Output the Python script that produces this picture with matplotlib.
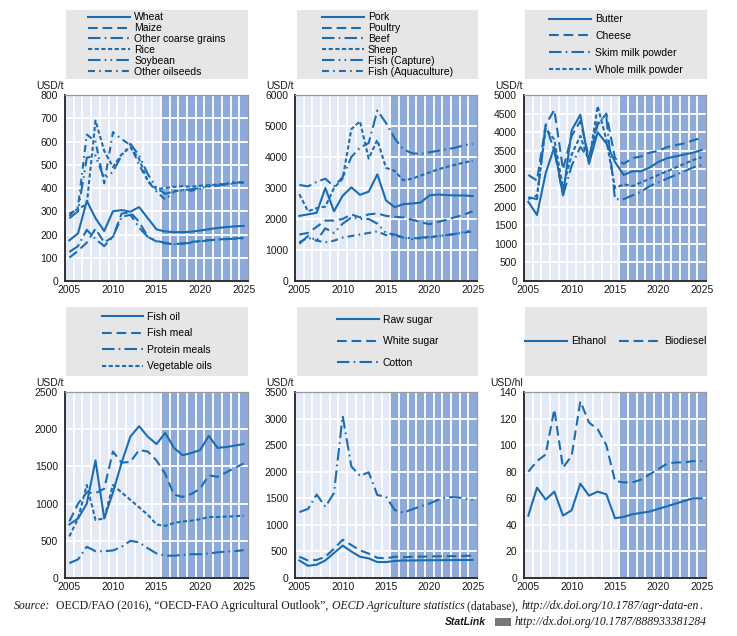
import numpy as np
import matplotlib
matplotlib.use('Agg')
import matplotlib.pyplot as plt
from matplotlib.ticker import MultipleLocator, FixedLocator

plt.rcParams['font.family'] = ['Liberation Sans', 'DejaVu Sans']
plt.rcParams['lines.scale_dashes'] = False

years = list(range(2005, 2026))

# --- cereals & oilseeds (USD/t)
wheat = [175, 205, 345, 270, 215, 300, 305, 298, 318, 270, 222, 213, 210, 210, 212, 217, 223, 228, 232, 235, 237]
maize = [100, 130, 165, 225, 165, 190, 290, 295, 255, 190, 170, 162, 158, 162, 168, 172, 176, 178, 181, 183, 185]
coarse = [125, 150, 220, 180, 150, 190, 275, 285, 230, 190, 172, 165, 158, 160, 165, 170, 175, 178, 180, 182, 184]
rice = [290, 310, 330, 690, 560, 490, 545, 575, 525, 430, 395, 400, 405, 408, 405, 410, 412, 415, 418, 422, 425]
soybean = [270, 300, 530, 540, 440, 470, 540, 590, 540, 460, 400, 375, 385, 390, 395, 400, 405, 410, 415, 420, 425]
oilseeds = [280, 320, 630, 600, 420, 640, 610, 585, 500, 430, 385, 350, 385, 392, 388, 397, 410, 412, 418, 428, 422]

# --- meat & fish (USD/t)
pork = [2100, 2150, 2200, 3000, 2250, 2750, 3020, 2780, 2880, 3440, 2600, 2380, 2480, 2500, 2530, 2760, 2790, 2770, 2760, 2760, 2740]
poultry = [1500, 1550, 1750, 1950, 1950, 2000, 2150, 2050, 2150, 2180, 2100, 2070, 2050, 1980, 1900, 1830, 1900, 1980, 2060, 2140, 2250]
beef = [3100, 3050, 3200, 3300, 3050, 3350, 4000, 4300, 4450, 5500, 5100, 4600, 4250, 4120, 4100, 4150, 4200, 4250, 4300, 4380, 4420]
sheep = [2800, 2250, 2350, 2400, 3000, 3300, 4900, 5150, 3950, 4550, 3650, 3550, 3250, 3300, 3400, 3500, 3600, 3680, 3750, 3820, 3880]
fish_capture = [1200, 1450, 1300, 1700, 1550, 1850, 2050, 2000, 2000, 1850, 1550, 1500, 1400, 1350, 1400, 1420, 1450, 1480, 1520, 1580, 1650]
fish_aqua = [1250, 1400, 1300, 1250, 1300, 1400, 1450, 1500, 1550, 1600, 1480, 1470, 1400, 1380, 1380, 1400, 1450, 1480, 1520, 1560, 1600]

# --- dairy (USD/t)
butter = [2130, 1775, 2900, 3600, 2300, 4050, 4470, 3150, 4000, 3700, 3200, 2850, 2950, 2950, 3050, 3200, 3300, 3350, 3400, 3450, 3520]
cheese = [2850, 2700, 4200, 4600, 3000, 3900, 4300, 3300, 4200, 4500, 3300, 3150, 3300, 3350, 3450, 3500, 3600, 3650, 3700, 3780, 3850]
smp = [2250, 2200, 4200, 3500, 2300, 3100, 3600, 3300, 4300, 4400, 2200, 2200, 2300, 2400, 2550, 2650, 2750, 2850, 2950, 3050, 3120]
wmp = [2200, 2300, 4100, 3800, 2500, 3400, 3900, 3200, 4700, 3800, 2500, 2600, 2550, 2650, 2750, 2850, 2950, 3050, 3150, 3250, 3330]

# --- oils & meals (USD/t)
fish_oil = [720, 800, 1000, 1580, 800, 1150, 1550, 1900, 2040, 1900, 1800, 1950, 1750, 1650, 1680, 1720, 1910, 1750, 1760, 1780, 1800]
fish_meal = [760, 1000, 1150, 1140, 1200, 1700, 1550, 1560, 1720, 1700, 1580, 1400, 1120, 1090, 1130, 1200, 1380, 1360, 1420, 1480, 1540]
protein_meals = [200, 250, 420, 360, 360, 370, 420, 500, 480, 400, 330, 300, 300, 310, 320, 320, 330, 345, 355, 360, 375]
veg_oils = [560, 800, 1250, 780, 800, 1250, 1150, 1050, 950, 850, 720, 700, 740, 760, 770, 790, 820, 820, 825, 830, 840]

# --- sugar & cotton (USD/t)
raw_sugar = [330, 230, 250, 330, 470, 610, 500, 400, 370, 300, 300, 320, 330, 330, 332, 334, 335, 336, 337, 338, 340]
white_sugar = [400, 330, 340, 400, 550, 720, 620, 520, 460, 380, 370, 400, 390, 400, 402, 405, 408, 410, 412, 415, 420]
cotton = [1240, 1300, 1570, 1340, 1600, 3050, 2100, 1920, 1990, 1560, 1530, 1280, 1230, 1290, 1350, 1400, 1470, 1520, 1520, 1500, 1470]

# --- biofuels (USD/hl)
ethanol = [47, 68, 59, 65, 47, 51, 71, 62, 65, 63, 45, 46, 48, 49, 50, 52, 54, 56, 58, 60, 60]
biodiesel = [80, 88, 93, 127, 83, 92, 133, 117, 112, 100, 73, 72, 72, 74, 78, 82, 86, 87, 87, 88, 88]

BLUE = '#1b6db3'
LIGHT = '#e3e9f5'
DARK = '#8eaad9'
BOXGRAY = '#e6e6e6'
FS = 7.5

STYLES = {
    'solid': None,
    'dash': (0, (7, 3.5)),
    'dashdot': (0, (9, 3, 1.2, 3)),
    'short': (0, (3, 1.8)),
    'dashdotdot': (0, (9, 3, 1.2, 3, 1.2, 3)),
    'dot_dash': (0, (5, 3, 1.2, 3)),
}

panels = [
    dict(series=[('Wheat', wheat, 'solid'), ('Maize', maize, 'dash'),
                 ('Other coarse grains', coarse, 'dashdot'), ('Rice', rice, 'short'),
                 ('Soybean', soybean, 'dashdotdot'), ('Other oilseeds', oilseeds, 'dot_dash')],
         ymax=800, ystep=100, unit='USD/t', spacing=0.08, ncol=1),
    dict(series=[('Pork', pork, 'solid'), ('Poultry', poultry, 'dash'),
                 ('Beef', beef, 'dashdot'), ('Sheep', sheep, 'short'),
                 ('Fish (Capture)', fish_capture, 'dashdotdot'),
                 ('Fish (Aquaculture)', fish_aqua, 'dot_dash')],
         ymax=6000, ystep=1000, unit='USD/t', spacing=0.08, ncol=1),
    dict(series=[('Butter', butter, 'solid'), ('Cheese', cheese, 'dash'),
                 ('Skim milk powder', smp, 'dashdot'), ('Whole milk powder', wmp, 'short')],
         ymax=5000, ystep=500, unit='USD/t', spacing=0.66, ncol=1),
    dict(series=[('Fish oil', fish_oil, 'solid'), ('Fish meal', fish_meal, 'dash'),
                 ('Protein meals', protein_meals, 'dashdot'), ('Vegetable oils', veg_oils, 'short')],
         ymax=2500, ystep=500, unit='USD/t', spacing=0.62, ncol=1),
    dict(series=[('Raw sugar', raw_sugar, 'solid'), ('White sugar', white_sugar, 'dash'),
                 ('Cotton', cotton, 'dashdot')],
         ymax=3500, ystep=500, unit='USD/t', spacing=1.1, ncol=1),
    dict(series=[('Ethanol', ethanol, 'solid'), ('Biodiesel', biodiesel, 'dash')],
         ymax=140, ystep=20, unit='USD/hl', spacing=0.5, ncol=2),
]

W, H = 737, 636
fig = plt.figure(figsize=(W / 100, H / 100), dpi=100)


def rect(x0, y0, x1, y1):
    return [x0 / W, 1 - y1 / H, (x1 - x0) / W, (y1 - y0) / H]


col_x = [(65, 248), (295, 477), (524, 706)]
legend_x = [(66, 248), (297, 478), (525, 707)]
row_y = [(95, 281), (392, 578)]
legend_y = [(10, 79), (307, 376)]

for i, p in enumerate(panels):
    r, c = divmod(i, 3)
    ax = fig.add_axes(rect(col_x[c][0], row_y[r][0], col_x[c][1], row_y[r][1]))
    ax.set_facecolor(LIGHT)
    ax.axvspan(2015.5, 2025.5, color=DARK, lw=0, zorder=1)

    lines = []
    for name, vals, st in p['series']:
        kw = dict(color=BLUE, lw=1.5, zorder=3, label=name)
        if STYLES[st] is not None:
            kw['linestyle'] = STYLES[st]
        ln, = ax.plot(years, vals, **kw)
        lines.append(ln)

    ax.set_xlim(2004.5, 2025.5)
    ax.set_ylim(0, p['ymax'])
    ax.xaxis.set_major_locator(FixedLocator([2005, 2010, 2015, 2020, 2025]))
    ax.xaxis.set_minor_locator(FixedLocator(np.arange(2005.5, 2025.5, 1.0)))
    ax.yaxis.set_major_locator(MultipleLocator(p['ystep']))
    ax.set_axisbelow('line')
    ax.grid(which='minor', axis='x', color='white', lw=1.3, zorder=2)
    ax.grid(which='major', axis='y', color='white', lw=1.3, zorder=2)
    ax.tick_params(which='both', length=0, labelsize=FS, colors='#1a1a1a')
    ax.tick_params(axis='x', pad=3)
    ax.tick_params(axis='y', pad=5)
    for s in ('left', 'bottom'):
        ax.spines[s].set_color('#222222')
        ax.spines[s].set_linewidth(1.3)
    for s in ('top', 'right'):
        ax.spines[s].set_color('#9a9a9a')
        ax.spines[s].set_linewidth(0.9)

    ax.annotate(p['unit'], xy=(0, 1), xycoords='axes fraction', xytext=(-1, 3),
                textcoords='offset points', ha='right', va='bottom', fontsize=FS,
                color='#1a1a1a')

    # legend box
    bax = fig.add_axes(rect(legend_x[c][0], legend_y[r][0], legend_x[c][1], legend_y[r][1]))
    bax.set_facecolor(BOXGRAY)
    bax.set_xticks([])
    bax.set_yticks([])
    for s in bax.spines.values():
        s.set_visible(False)
    bax.legend(handles=lines, loc='center', frameon=False, fontsize=FS,
               handlelength=4.0, handletextpad=0.4, labelspacing=p['spacing'],
               ncol=p['ncol'], columnspacing=1.2, borderaxespad=0, borderpad=0)

# source notes
fig.canvas.draw()
renderer = fig.canvas.get_renderer()


def text_width(txt, **kw):
    # measure with sentinels so leading/trailing spaces count
    a = fig.text(0, 0, 'x' + txt + 'x', **kw)
    b = fig.text(0, 0, 'xx', **kw)
    w = a.get_window_extent(renderer=renderer).width - b.get_window_extent(renderer=renderer).width
    a.remove()
    b.remove()
    return w


def write_run(pieces, x, y, size):
    for txt, style, weight, family in pieces:
        kw = dict(fontsize=size, style=style, weight=weight, family=family)
        fig.text(x / W, 1 - y / H, txt, va='center', ha='left', color='#1a1a1a', **kw)
        x += text_width(txt, **kw)
    return x


serif = ['Liberation Serif', 'DejaVu Serif']
write_run([
    ('Source:', 'italic', 'normal', serif),
    ('  OECD/FAO (2016), \u201cOECD-FAO Agricultural Outlook\u201d, ', 'normal', 'normal', serif),
    ('OECD Agriculture statistics', 'italic', 'normal', serif),
    (' (database), ', 'normal', 'normal', serif),
    ('http://dx.doi.org/10.1787/agr-data-en', 'italic', 'normal', serif),
    ('.', 'normal', 'normal', serif),
], 14, 606, 8.5)

write_run([
    ('StatLink', 'italic', 'bold', ['Liberation Sans', 'DejaVu Sans']),
], 445, 622, 7.5)
fig.patches.append(plt.Rectangle((495 / W, 1 - 626 / H), 16 / W, 8 / H,
                                 transform=fig.transFigure, color='#777777', lw=0))
write_run([
    ('http://dx.doi.org/10.1787/888933381284', 'italic', 'normal', serif),
], 515, 622, 8.5)

fig.savefig('out.png', dpi=100)
